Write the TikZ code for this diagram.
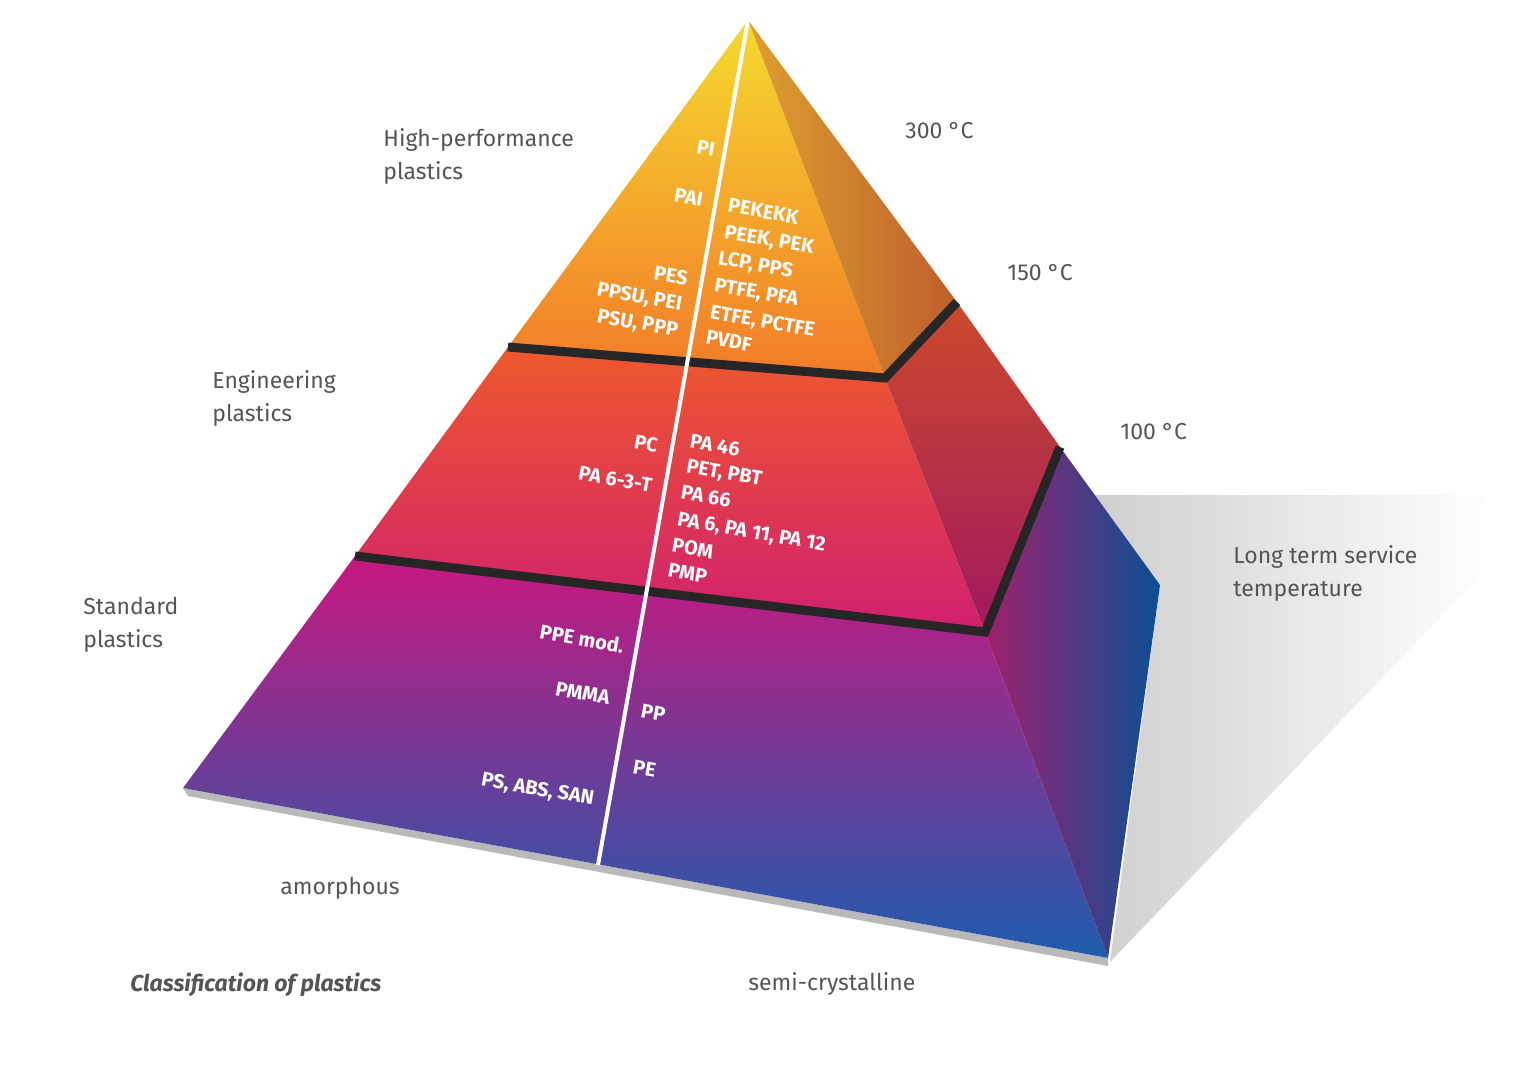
\documentclass[tikz,border=0pt]{standalone}
\usepackage{fontspec}
\setmainfont{Fira Sans}
\usetikzlibrary{positioning}
\definecolor{tagray}{HTML}{555555}
\definecolor{topA}{HTML}{F6DA2E}\definecolor{topB}{HTML}{F27A28}
\definecolor{topSA}{HTML}{DDA030}\definecolor{topSB}{HTML}{BF5E2C}
\definecolor{midA}{HTML}{EF582C}\definecolor{midB}{HTML}{D01F70}
\definecolor{midSA}{HTML}{CC4A2C}\definecolor{midSB}{HTML}{A0195E}
\definecolor{lowA}{HTML}{C8187F}\definecolor{lowB}{HTML}{1E5CAE}
\definecolor{lowSA}{HTML}{A0206E}\definecolor{lowSB}{HTML}{0A4F95}
\tikzset{
    plab/.style={text=white, font=\bfseries\fontsize{10}{12}\selectfont, rotate=-10, inner sep=0pt},
    outlab/.style={text=tagray, font=\fontsize{11.5}{16.5}\selectfont, align=left, anchor=north west, inner sep=0pt},
    band/.style={line width=4.5pt, black!85, line join=miter},
}
\begin{document}
\begin{tikzpicture}[x=0.5pt,y=-0.5pt]
\useasboundingbox (0,0) rectangle (1530,1065);
% corners
\coordinate (apex) at (748,20);
\coordinate (t1l) at (508,347);  \coordinate (t1f) at (885,378); \coordinate (t1s) at (957,302);
\coordinate (t2l) at (355,556);  \coordinate (t2f) at (985,632); \coordinate (t2s) at (1060,447);
\coordinate (bl) at (183,788);   \coordinate (bf) at (1108,958); \coordinate (bs) at (1160,585);
\coordinate (mid) at (598,865);
% shadows
\shade[left color=gray!40, right color=white] (1070,470) -- (1090,495) -- (1485,495) -- (1495,560) -- (1110,962) -- (bs) -- cycle;
\fill[gray!55] (bl) -- (bf) -- (1108,966) -- (188,796) -- cycle;
% top tier
\shade[top color=topA, bottom color=topB] (apex) -- (t1l) -- (t1f) -- cycle;
\shade[left color=topSA, right color=topSB] (apex) -- (t1f) -- (t1s) -- cycle;
% middle tier
\shade[top color=midA, bottom color=midB] (t1l) -- (t2l) -- (t2f) -- (t1f) -- cycle;
\shade[top color=midSA, bottom color=midSB] (t1f) -- (t1s) -- (t2s) -- (t2f) -- cycle;
% bottom tier
\shade[top color=lowA, bottom color=lowB] (t2l) -- (bl) -- (bf) -- (t2f) -- cycle;
\shade[left color=lowSA, right color=lowSB] (t2f) -- (t2s) -- (bs) -- (bf) -- cycle;
% bands and divider
\draw[band] (t1l) -- (t1f) -- (t1s);
\draw[band] (t2l) -- (t2f) -- (t2s);
\draw[white, line width=2pt] (apex) -- (mid);
% polymer labels
\node[plab, anchor=east] (pi) at (715,150) {PI};
\node[plab, anchor=east] (pai) at (703,200) {PAI};
\node[plab, anchor=east] (pes) at (688,279) {PES};
\node[plab, anchor=east] (ppsu) at (682,305) {PPSU, PEI};
\node[plab, anchor=east] (psu) at (678,331) {PSU, PPP};
\node[plab, anchor=west] (pekekk) at (728,205) {PEKEKK};
\node[plab, anchor=west] (peek) at (724,233) {PEEK, PEK};
\node[plab, anchor=west] (lcp) at (718,259) {LCP, PPS};
\node[plab, anchor=west] (ptfe) at (714,286) {PTFE, PFA};
\node[plab, anchor=west] (etfe) at (710,313) {ETFE, PCTFE};
\node[plab, anchor=west] (pvdf) at (706,337) {PVDF};
\node[plab, anchor=east] (pc) at (658,446) {PC};
\node[plab, anchor=east] (pa63t) at (652,486) {PA 6-3-T};
\node[plab, anchor=west] (pa46) at (690,441) {PA 46};
\node[plab, anchor=west] (pet) at (686,467) {PET, PBT};
\node[plab, anchor=west] (pa66) at (681,492) {PA 66};
\node[plab, anchor=west] (pa6) at (677,520) {PA 6, PA 11, PA 12};
\node[plab, anchor=west] (pom) at (672,545) {POM};
\node[plab, anchor=west] (pmp) at (668,570) {PMP};
\node[plab, anchor=east] (ppe) at (624,646) {PPE mod.};
\node[plab, anchor=east] (pmma) at (610,698) {PMMA};
\node[plab, anchor=east] (ps) at (594,800) {PS, ABS, SAN};
\node[plab, anchor=west] (pp) at (641,711) {PP};
\node[plab, anchor=west] (pe) at (633,767) {PE};
% outer labels
\node[outlab] (hp) at (383,128) {High-performance\\plastics};
\node[outlab] (eng) at (212,370) {Engineering\\plastics};
\node[outlab] (std) at (83,597) {Standard\\plastics};
\node[outlab] (t300) at (905,122) {300 °C};
\node[outlab] (t150) at (1007,264) {150 °C};
\node[outlab] (t100) at (1120,423) {100 °C};
\node[outlab] (lts) at (1233,545) {Long term service\\temperature};
\node[outlab] (amo) at (280,877) {amorphous};
\node[outlab] (semi) at (748,972) {semi-crystalline};
\node[outlab, font=\bfseries\itshape\fontsize{11.5}{16.5}\selectfont] (cls) at (130,972) {Classification of plastics};
\end{tikzpicture}
\end{document}
